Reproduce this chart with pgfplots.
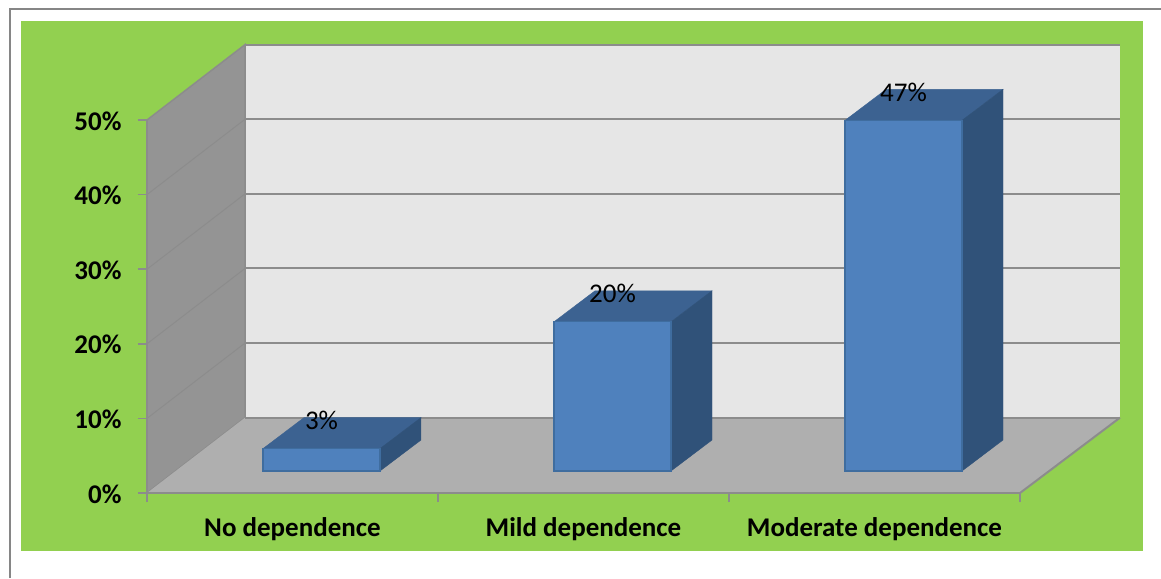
\documentclass[border=0pt]{standalone}
\usepackage{fontspec}
\setmainfont{Carlito}
\usepackage{pgfplots}
\usepackage{pgfplotstable}
\pgfplotsset{compat=1.18}

\definecolor{panelgreen}{HTML}{92D050}
\definecolor{framegray}{HTML}{868686}
\definecolor{gridgray}{HTML}{8C8C8C}
\definecolor{backwall}{HTML}{E6E6E6}
\definecolor{sidewall}{HTML}{949494}
\definecolor{floorgray}{HTML}{AFAFAF}
\definecolor{barfront}{HTML}{4F81BD}
\definecolor{bartop}{HTML}{3C6291}
\definecolor{barside}{HTML}{305279}
\definecolor{baredge}{HTML}{3F6D9F}

% Share of respondents by dependence level
\pgfplotstableread{
pos value
0.5 3
1.5 20
2.5 47
}\dependence

\pgfplotsset{
  chartframe/.style={
    scale only axis, width=873pt, height=373pt,
    anchor=south west,
    xmin=0, xmax=3, ymin=0, ymax=50,
    clip=false,
  },
  /pgf/number format/assume math mode=true,
}

\begin{document}
\begin{tikzpicture}[x=1pt,y=1pt]
  \useasboundingbox (0,0) rectangle (1161,578);
  % page background, frame and green panel
  \fill[white] (0,0) rectangle (1161,578);
  \draw[framegray,line width=2pt] (9.5,0) -- (9.5,569) -- (1161,569);
  \fill[panelgreen] (21,27) rectangle (1143,557);

  % walls, floor, ticks and category names
  \begin{axis}[chartframe, at={(147pt,85pt)},
    axis on top,
    axis y line=left, axis x line=bottom,
    axis line style={-, draw=gridgray, line width=2.2pt},
    ytick={0,10,20,30,40,50},
    yticklabels={0\%,10\%,20\%,30\%,40\%,50\%},
    yticklabel style={font=\fontsize{27}{27}\selectfont\bfseries, text=black, xshift=-13pt, yshift=-1pt},
    xtick={0.5,1.5,2.5},
    xticklabels={No dependence,Mild dependence,Moderate dependence},
    xticklabel style={font=\fontsize{27}{27}\selectfont\bfseries, text=black, yshift=-12pt},
    major x tick style={draw=none},
    minor xtick={0,1,2,3},
    tick align=outside,
    major tick length=9pt,
    minor tick length=9pt,
    tick style={draw=gridgray, line width=1.5pt},
  ]
    \addplot[fill=backwall, draw=none, forget plot] coordinates
      {(0.3368,10.1) (3.3436,10.1) (3.3436,60.1) (0.3368,60.1)} -- cycle;
    \addplot[fill=sidewall, draw=gridgray, line width=1.5pt, forget plot] coordinates
      {(0,0) (0,50) (0.3368,60.1) (0.3368,10.1)} -- cycle;
    \addplot[fill=floorgray, draw=none, forget plot] coordinates
      {(0,0) (3,0) (3.3436,10.1) (0.3368,10.1)} -- cycle;
    % gridlines along the back wall and across the side wall
    \pgfplotsinvokeforeach{10.1,20.1,30.1,40.1,50.1,60.1}{
      \addplot[draw=gridgray, line width=2pt, forget plot] coordinates
        {(0.3368,#1) (3.3436,#1)};
    }
    \addplot[draw=gridgray, line width=1pt, forget plot] coordinates
      {(0,10) (0.3368,20.1)};
    \addplot[draw=gridgray, line width=1pt, forget plot] coordinates
      {(0,20) (0.3368,30.1)};
    \addplot[draw=gridgray, line width=1pt, forget plot] coordinates
      {(0,30) (0.3368,40.1)};
    \addplot[draw=gridgray, line width=1pt, forget plot] coordinates
      {(0,40) (0.3368,50.1)};
    \addplot[draw=gridgray, line width=2pt, forget plot] coordinates
      {(3,0) (3.3436,10.1)};
  \end{axis}

  % bars stand on the floor, set back from the front edge
  \begin{axis}[chartframe, at={(176pt,107pt)}, hide axis]
    \addplot[fill=bartop, draw=bartop, forget plot] coordinates
      {(0.299,3) (0.701,3) (0.8419,7.155) (0.4399,7.155)} -- cycle;
    \addplot[fill=barside, draw=barside, forget plot] coordinates
      {(0.701,0) (0.701,3) (0.8419,7.155) (0.8419,4.155)} -- cycle;
    \addplot[fill=bartop, draw=bartop, forget plot] coordinates
      {(1.299,20) (1.701,20) (1.8419,24.155) (1.4399,24.155)} -- cycle;
    \addplot[fill=barside, draw=barside, forget plot] coordinates
      {(1.701,0) (1.701,20) (1.8419,24.155) (1.8419,4.155)} -- cycle;
    \addplot[fill=bartop, draw=bartop, forget plot] coordinates
      {(2.299,47) (2.701,47) (2.8419,51.155) (2.4399,51.155)} -- cycle;
    \addplot[fill=barside, draw=barside, forget plot] coordinates
      {(2.701,0) (2.701,47) (2.8419,51.155) (2.8419,4.155)} -- cycle;
    \addplot[ybar, bar width=117pt, bar shift=0pt,
      fill=barfront, draw=baredge, line width=1.2pt,
      nodes near coords={\pgfmathprintnumber{\pgfplotspointmeta}\%},
      nodes near coords style={anchor=center, yshift=28pt, text=black,
        font=\fontsize{27}{27}\selectfont},
    ] table[x=pos, y=value] {\dependence};
  \end{axis}
\end{tikzpicture}
\end{document}
